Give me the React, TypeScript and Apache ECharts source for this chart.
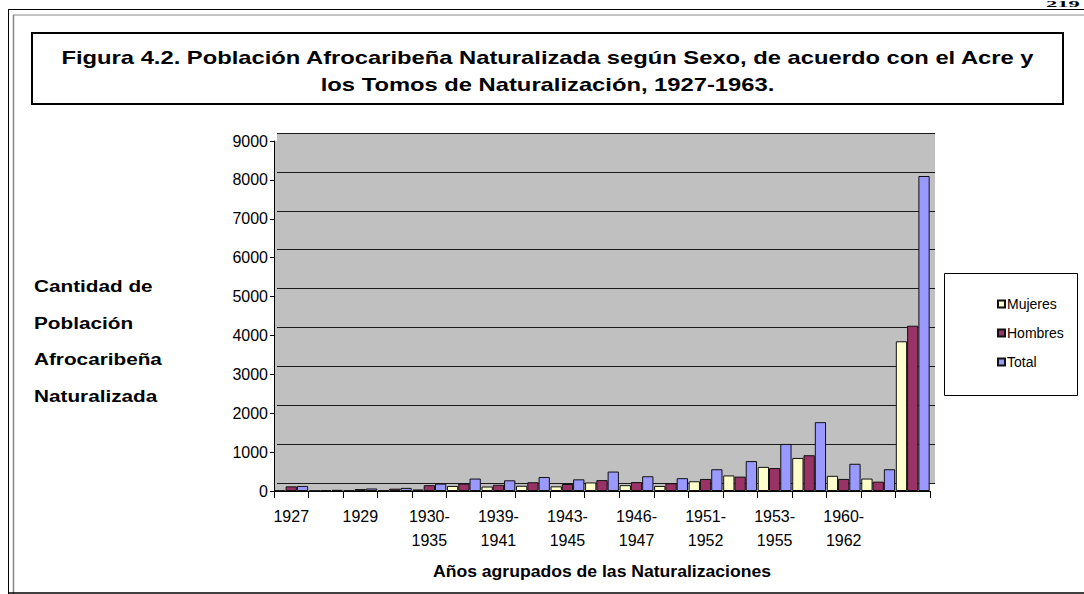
import React, { useEffect, useRef } from "react";
import * as echarts from "echarts";

const categories = [
  "1927", "1928", "1929", "1930", "1930-1935", "1936-1938", "1939-1941", "1942",
  "1943-1945", "1945-1946", "1946-1947", "1948-1950", "1951-1952", "1952-1953",
  "1953-1955", "1956-1959", "1960-1962", "1963", "Total",
];
const mujeres = [10, 10, 15, 15, 40, 130, 115, 135, 120, 220, 150, 130, 250, 400, 620, 850, 390, 320, 3850];
const hombres = [120, 20, 50, 60, 150, 190, 160, 225, 180, 280, 230, 200, 310, 370, 590, 920, 310, 240, 4250];
const total = [130, 30, 65, 80, 190, 320, 275, 360, 300, 500, 380, 330, 560, 770, 1210, 1770, 700, 560, 8100];
const seriesNames = ["Mujeres", "Hombres", "Total"];
const seriesColors = ["#FFFFCC", "#993366", "#9999FF"];
const yTicks = { min: 0, max: 9000, interval: 1000 };

const titleText =
  "Figura 4.2. Población Afrocaribeña Naturalizada según Sexo, de acuerdo con el Acre y\nlos Tomos de Naturalización, 1927-1963.";
const yTitle = "Cantidad de\nPoblación\nAfrocaribeña\nNaturalizada";
const xTitle = "Años agrupados de las Naturalizaciones";
const pageNumber = "219";

const FONT = "'Liberation Sans', Arial, sans-serif";

export default function App() {
  const ref = useRef<HTMLDivElement>(null);
  useEffect(() => {
    if (!ref.current) return;
    const chart = echarts.init(ref.current, null, { renderer: "svg" });
    const values = [mujeres, hombres, total];
    chart.setOption({
      animation: false,
      backgroundColor: "#ffffff",
      textStyle: { fontFamily: FONT },
      grid: [
        { left: 274, right: 154, top: 141, bottom: 103, show: true, backgroundColor: "#C0C0C0", borderWidth: 0 },
        { left: 277, right: 149, top: 133, bottom: 111, show: true, backgroundColor: "#C0C0C0", borderWidth: 0 },
      ],
      xAxis: [
        {
          gridIndex: 0,
          type: "category",
          data: categories,
          axisLine: { lineStyle: { color: "#000", width: 1 } },
          axisTick: { show: true, length: 7, interval: 0, lineStyle: { color: "#000" } },
          axisLabel: {
            interval: (i: number) => i % 2 === 0 && i < categories.length - 1,
            formatter: (v: string) => v.replace("-", "-\n"),
            color: "#000",
            fontSize: 16,
            lineHeight: 24,
            margin: 13,
            fontFamily: FONT,
          },
        },
        { gridIndex: 1, type: "category", data: categories, show: false },
      ],
      yAxis: [
        {
          gridIndex: 0,
          type: "value",
          ...yTicks,
          axisLine: { show: true, lineStyle: { color: "#000" } },
          axisTick: { show: true, length: 4, lineStyle: { color: "#000" } },
          axisLabel: {
            color: "#000",
            fontSize: 16,
            margin: 6,
            fontFamily: FONT,
            formatter: (v: number) => String(v),
          },
          splitLine: { show: false },
        },
        {
          gridIndex: 1,
          type: "value",
          ...yTicks,
          axisLine: { show: false },
          axisTick: { show: false },
          axisLabel: { show: false },
          splitLine: { show: true, lineStyle: { color: "#1a1a1a", width: 1.2 } },
        },
      ],
      legend: {
        orient: "vertical",
        left: 992,
        top: 292,
        itemWidth: 7,
        itemHeight: 7,
        itemGap: 15,
        icon: "rect",
        textStyle: { color: "#000", fontSize: 14, fontFamily: FONT, padding: [0, 0, 0, -3] },
        data: seriesNames,
      },
      series: seriesNames.map((name, i) => ({
        name,
        type: "bar",
        xAxisIndex: 0,
        yAxisIndex: 0,
        data: values[i],
        barGap: "0%",
        barCategoryGap: "2%",
        itemStyle: { color: seriesColors[i], borderColor: "#111", borderWidth: 1 },
      })),
      graphic: [
        // page frame
        { type: "line", shape: { x1: 8, y1: 9.5, x2: 1084, y2: 9.5 }, style: { stroke: "#000", lineWidth: 1 } },
        { type: "line", shape: { x1: 13, y1: 15, x2: 1084, y2: 15 }, style: { stroke: "#888", lineWidth: 1 } },
        { type: "line", shape: { x1: 8.5, y1: 9, x2: 8.5, y2: 594 }, style: { stroke: "#000", lineWidth: 1 } },
        { type: "line", shape: { x1: 13.5, y1: 15, x2: 13.5, y2: 594 }, style: { stroke: "#888", lineWidth: 1.5 } },
        { type: "line", shape: { x1: 8, y1: 593, x2: 1084, y2: 593 }, style: { stroke: "#000", lineWidth: 1.5 } },
        {
          type: "text",
          x: 1046,
          y: 0,
          scaleX: 1.25,
          scaleY: 0.45,
          style: { text: pageNumber, fill: "#000", font: "bold 18px 'Liberation Serif', serif", textVerticalAlign: "top" },
        },
        // title box
        { type: "rect", shape: { x: 32, y: 33, width: 1031, height: 71 }, style: { fill: "#fff", stroke: "#000", lineWidth: 2 } },
        {
          type: "text",
          x: 547.5,
          y: 71,
          scaleX: 1.25,
          style: {
            text: titleText,
            fill: "#000",
            font: `bold 19px ${FONT}`,
            textAlign: "center",
            textVerticalAlign: "middle",
            lineHeight: 27,
          },
        },
        // y title
        {
          type: "text",
          x: 34,
          y: 268,
          scaleX: 1.22,
          style: { text: yTitle, fill: "#000", font: `bold 17px ${FONT}`, lineHeight: 36.5 },
        },
        // x title
        {
          type: "text",
          x: 602,
          y: 572,
          scaleX: 1.1,
          style: { text: xTitle, fill: "#000", font: `bold 16px ${FONT}`, textAlign: "center", textVerticalAlign: "middle" },
        },
        // legend box
        { type: "rect", z: -1, shape: { x: 944.5, y: 273.5, width: 133, height: 122 }, style: { fill: "#fff", stroke: "#000", lineWidth: 1 } },
      ],
    });
    return () => chart.dispose();
  }, []);
  return (
    <div
      ref={ref}
      style={{ position: "absolute", left: 0, top: 0, width: 1084, height: 594 }}
    />
  );
}
